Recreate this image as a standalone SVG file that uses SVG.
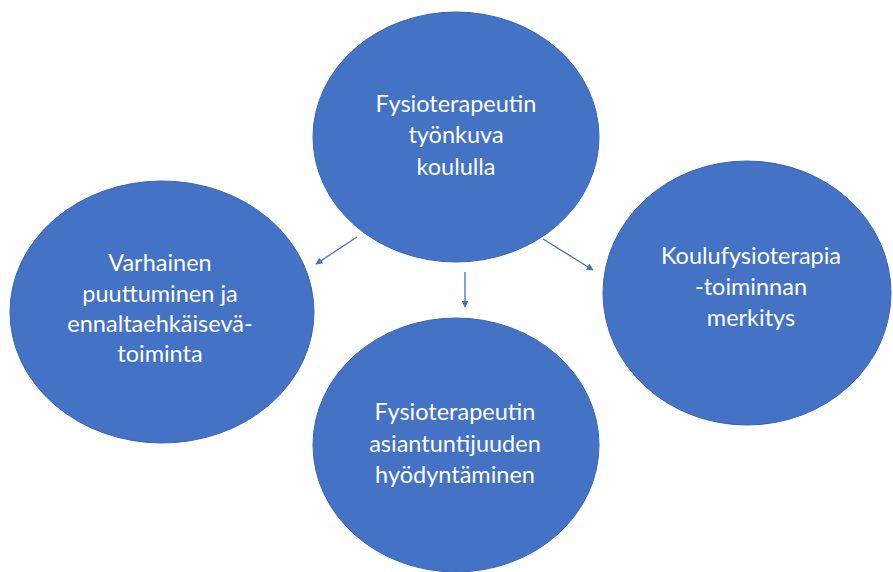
<svg xmlns="http://www.w3.org/2000/svg" width="893" height="572" viewBox="0 0 893 572">
<defs>
<style>
.node{fill:#4472C4;stroke:#3B65B3;stroke-width:1}
.lbl{font-family:Lato,"Liberation Sans",sans-serif;font-size:23.5px;fill:#FFFFFF;text-anchor:middle}
.conn{stroke:#4472C4;stroke-width:1.3;fill:none;marker-end:url(#ah)}
</style>
<marker id="ah" viewBox="0 0 10 10" refX="9" refY="5" markerWidth="7" markerHeight="7" markerUnits="userSpaceOnUse" orient="auto">
<path d="M0,0 L10,5 L0,10 z" fill="#4472C4"/>
</marker>
</defs>
<rect width="893" height="572" fill="#FFFFFF"/>
<g id="node-top">
<ellipse class="node" cx="456" cy="137" rx="143" ry="125"/>
<text class="lbl"><tspan x="456" y="112">Fysioterapeutin</tspan><tspan x="456" y="143">työnkuva</tspan><tspan x="456" y="175">koululla</tspan></text>
</g>
<g id="node-left">
<ellipse class="node" cx="162" cy="312" rx="152" ry="131"/>
<text class="lbl"><tspan x="160" y="271">Varhainen</tspan><tspan x="160" y="302">puuttuminen ja</tspan><tspan x="160" y="332">ennaltaehkäisevä-</tspan><tspan x="160" y="362">toiminta</tspan></text>
</g>
<g id="node-right">
<ellipse class="node" cx="747" cy="293" rx="144" ry="132"/>
<text class="lbl"><tspan x="751" y="264">Koulufysioterapia</tspan><tspan x="751" y="295">-toiminnan</tspan><tspan x="751" y="326">merkitys</tspan></text>
</g>
<g id="node-bottom">
<ellipse class="node" cx="456" cy="445" rx="143" ry="127"/>
<text class="lbl"><tspan x="455" y="420">Fysioterapeutin</tspan><tspan x="455" y="452">asiantuntijuuden</tspan><tspan x="455" y="483">hyödyntäminen</tspan></text>
</g>
<g id="connectors">
<line class="conn" x1="357" y1="237" x2="316" y2="264"/>
<line class="conn" x1="465" y1="272" x2="465" y2="307"/>
<line class="conn" x1="543" y1="239" x2="593" y2="270"/>
</g>
</svg>
